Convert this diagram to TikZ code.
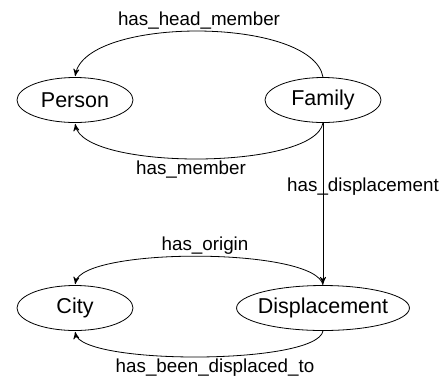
\documentclass[tikz,border=0pt]{standalone}
\usepackage{fontspec}
\setmainfont{Liberation Sans}
\usetikzlibrary{arrows,shapes.geometric,positioning}

\begin{document}
\begin{tikzpicture}[->,>=stealth',shorten >=0.5pt,auto,node distance=124pt,
  thin,class node/.style={ellipse,draw,inner xsep=-2pt,inner ysep=0pt,
  minimum width=58pt,minimum height=22.5pt,font=\fontsize{10.75}{12}\selectfont}]

  \useasboundingbox (-37.5pt,-138.5pt) rectangle (184.5pt,50pt);

  \node[class node] (P) {Person};
  \node[class node] (F) [right of=P] {Family};
  \node[class node] (C) [below of=P, node distance=104pt] {City};
  \node[class node] (D) [right of=C] {Displacement};

  \path[every node/.style={font=\fontsize{9.4}{11}\selectfont,inner sep=1pt}]
    % upper pair first, then the link down, then the lower pair
    (F.north) edge [out=100,in=80,looseness=0.64] node[above] {has\_head\_member} (P.north)
    (F.south) edge [out=-100,in=-80,looseness=0.5] node[below,xshift=-4pt] {has\_member} (P.south)
    (F.south) edge node[pos=0.39,anchor=center,xshift=20pt] {has\_displacement} (D.north)
    (D.north) edge [out=100,in=80,looseness=0.4] node[above,xshift=3pt] {has\_origin} (C.north)
    (D.south) edge [out=-100,in=-80,looseness=0.36] node[below,xshift=8pt] {has\_been\_displaced\_to} (C.south);

\end{tikzpicture}
\end{document}
